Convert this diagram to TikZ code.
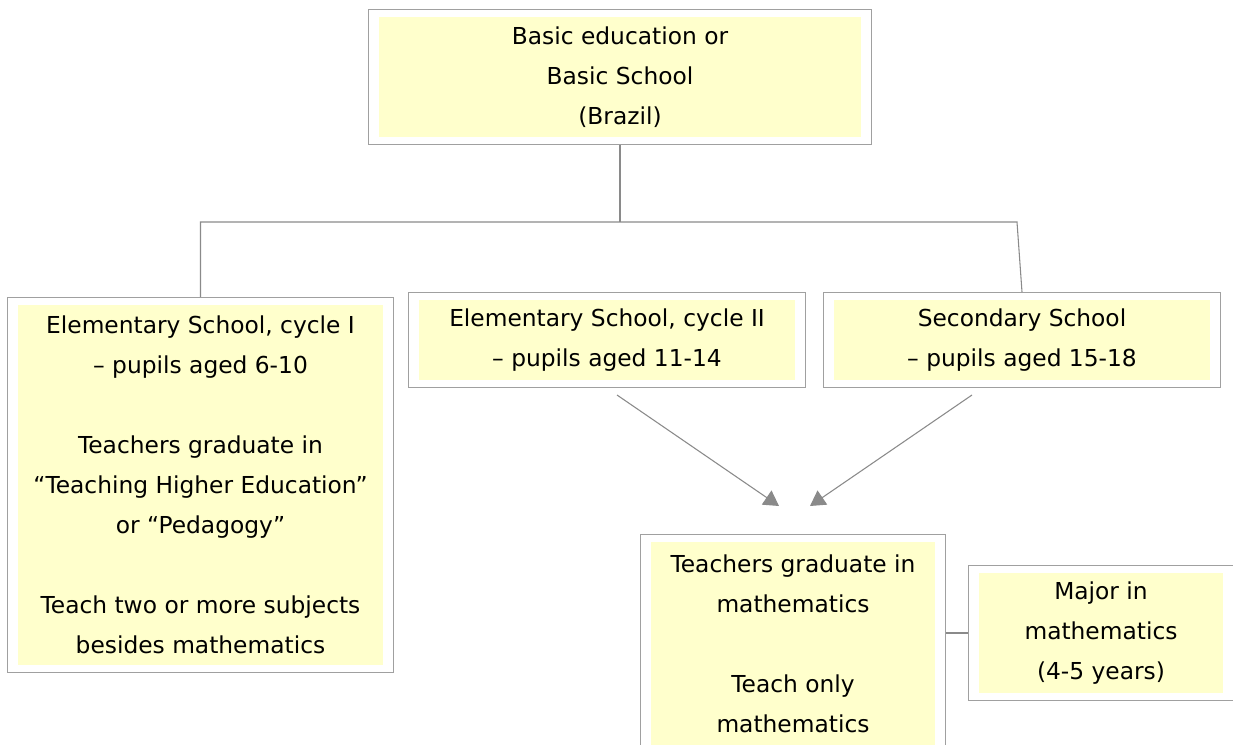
\documentclass[tikz,border=0pt]{standalone}
\usepackage{fontspec}
\setmainfont{DejaVu Sans}
\usepackage{tikz}
\usetikzlibrary{arrows.meta,fit}
\definecolor{boxyel}{HTML}{FFFFCC}
\definecolor{framegrey}{HTML}{A0A0A0}
\definecolor{linegrey}{HTML}{8A8A8A}

\begin{document}
\begin{tikzpicture}[x=0.75pt, y=-0.75pt,
  yelbox/.style={fill=boxyel, inner sep=0pt, align=center, font=\fontsize{17.5}{30}\selectfont},
  sz/.style 2 args={minimum width=#1*0.75pt, minimum height=#2*0.75pt},
  frame/.style={draw=framegrey, line width=1.1pt, inner xsep=7.5pt, inner ysep=5.25pt},
  link/.style={draw=linegrey, line width=0.8pt},
  arr/.style={link, -{Triangle[length=11.25pt, width=12.75pt]}},
]
\useasboundingbox (0,0) rectangle (1233,744);

% yellow text boxes (coordinates in px, y down)
\node[yelbox, sz={482}{120}] (basic) at (620,77) {Basic education or\\Basic School\\(Brazil)};
\node[yelbox, sz={365}{360}] (elem1) at (200.5,485)
  {Elementary School, cycle I\\– pupils aged 6-10\\[30pt]
   Teachers graduate in\\“Teaching Higher Education”\\or “Pedagogy”\\[30pt]
   Teach two or more subjects\\besides mathematics};
\node[yelbox, sz={376}{80}] (elem2) at (607,340) {Elementary School, cycle II\\– pupils aged 11-14};
\node[yelbox, sz={376}{80}] (second) at (1022,340) {Secondary School\\– pupils aged 15-18};
\node[yelbox, sz={284}{204}] (teachmath) at (793,644)
  {Teachers graduate in\\mathematics\\[30pt]Teach only\\mathematics};
\node[yelbox, sz={244}{120}] (major) at (1101,633) {Major in\\mathematics\\(4-5 years)};

% grey frames round each box
\foreach \n in {basic,elem1,elem2,second,teachmath,major}
  \node[frame, fit=(\n)] (fr-\n) {};

% tree lines
\coordinate (hub) at (622,222);
\coordinate (rjoin) at (1017,222);
\draw[link] (fr-basic.south) -- (fr-basic.south |- hub);
\draw[link] (fr-elem1.north) |- (rjoin) -- (fr-second.north);

% arrows down to the mathematics teachers
\coordinate (tipa) at (779,506);
\coordinate (tipb) at (810,506);
\draw[arr] ([xshift=7.5pt, yshift=-5.25pt]fr-elem2.south) -- (tipa);
\draw[arr] ([xshift=-37.5pt, yshift=-5.25pt]fr-second.south) -- (tipb);

\draw[link] (fr-major.west) -- (fr-major.west -| fr-teachmath.east);
\end{tikzpicture}
\end{document}
